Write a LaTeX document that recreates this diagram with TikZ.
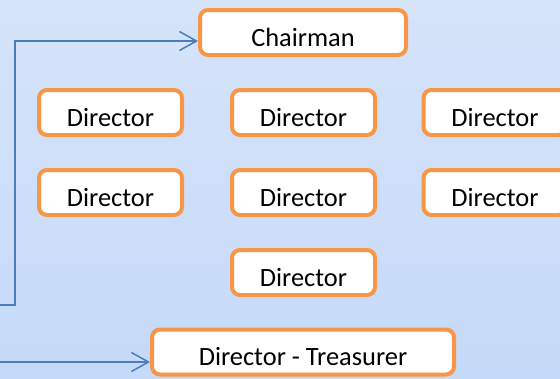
\documentclass[tikz,border=0pt]{standalone}
\usepackage{fontspec}
\setmainfont{Carlito}
\usetikzlibrary{arrows.meta}
\definecolor{boxorange}{HTML}{F79646}
\definecolor{linkblue}{HTML}{4A7EBB}
\definecolor{bgtop}{HTML}{D6E4FA}
\definecolor{bgbot}{HTML}{C5D9F8}
\tikzset{
  orgbox/.style={draw=boxorange, line width=4pt, fill=white, rounded corners=8pt,
    minimum height=45pt, inner sep=0pt, text height=27pt, text depth=0pt,
    font=\fontsize{26.4pt}{30pt}\selectfont, text=black},
  dirbox/.style={orgbox, minimum width=143pt},
  link/.style={draw=linkblue, line width=1.5pt, -{Straight Barb[length=17pt,width=19pt,line width=1.5pt]}}
}
\begin{document}
\begin{tikzpicture}[x=1pt,y=-1pt]
\useasboundingbox (0,0) rectangle (560,378);
\clip (0,0) rectangle (560,378);
\shade[top color=bgtop, bottom color=bgbot] (0,0) rectangle (560,378);
\node[orgbox, minimum width=206pt] (chair) at (303,32.5) {Chairman};
\node[dirbox] (d1) at (110.5,112.5) {Director};
\node[dirbox] (d2) at (303.5,112.5) {Director};
\node[dirbox] (d3) at (495,112.5) {Director};
\node[dirbox] (d4) at (110.5,192.5) {Director};
\node[dirbox] (d5) at (303.5,192.5) {Director};
\node[dirbox] (d6) at (495,192.5) {Director};
\node[dirbox] (d7) at (303.5,272.5) {Director};
\node[orgbox, minimum width=302pt] (treas) at (303,352) {Director - Treasurer};
\coordinate (s1) at (-2,305);
\coordinate (b1) at (15,41);
\coordinate (s2) at (-2,362);
\draw[link] (s1) -| (b1) -- (b1 -| chair.west);
\draw[link] (s2) -- (s2 -| treas.west);
\end{tikzpicture}
\end{document}
